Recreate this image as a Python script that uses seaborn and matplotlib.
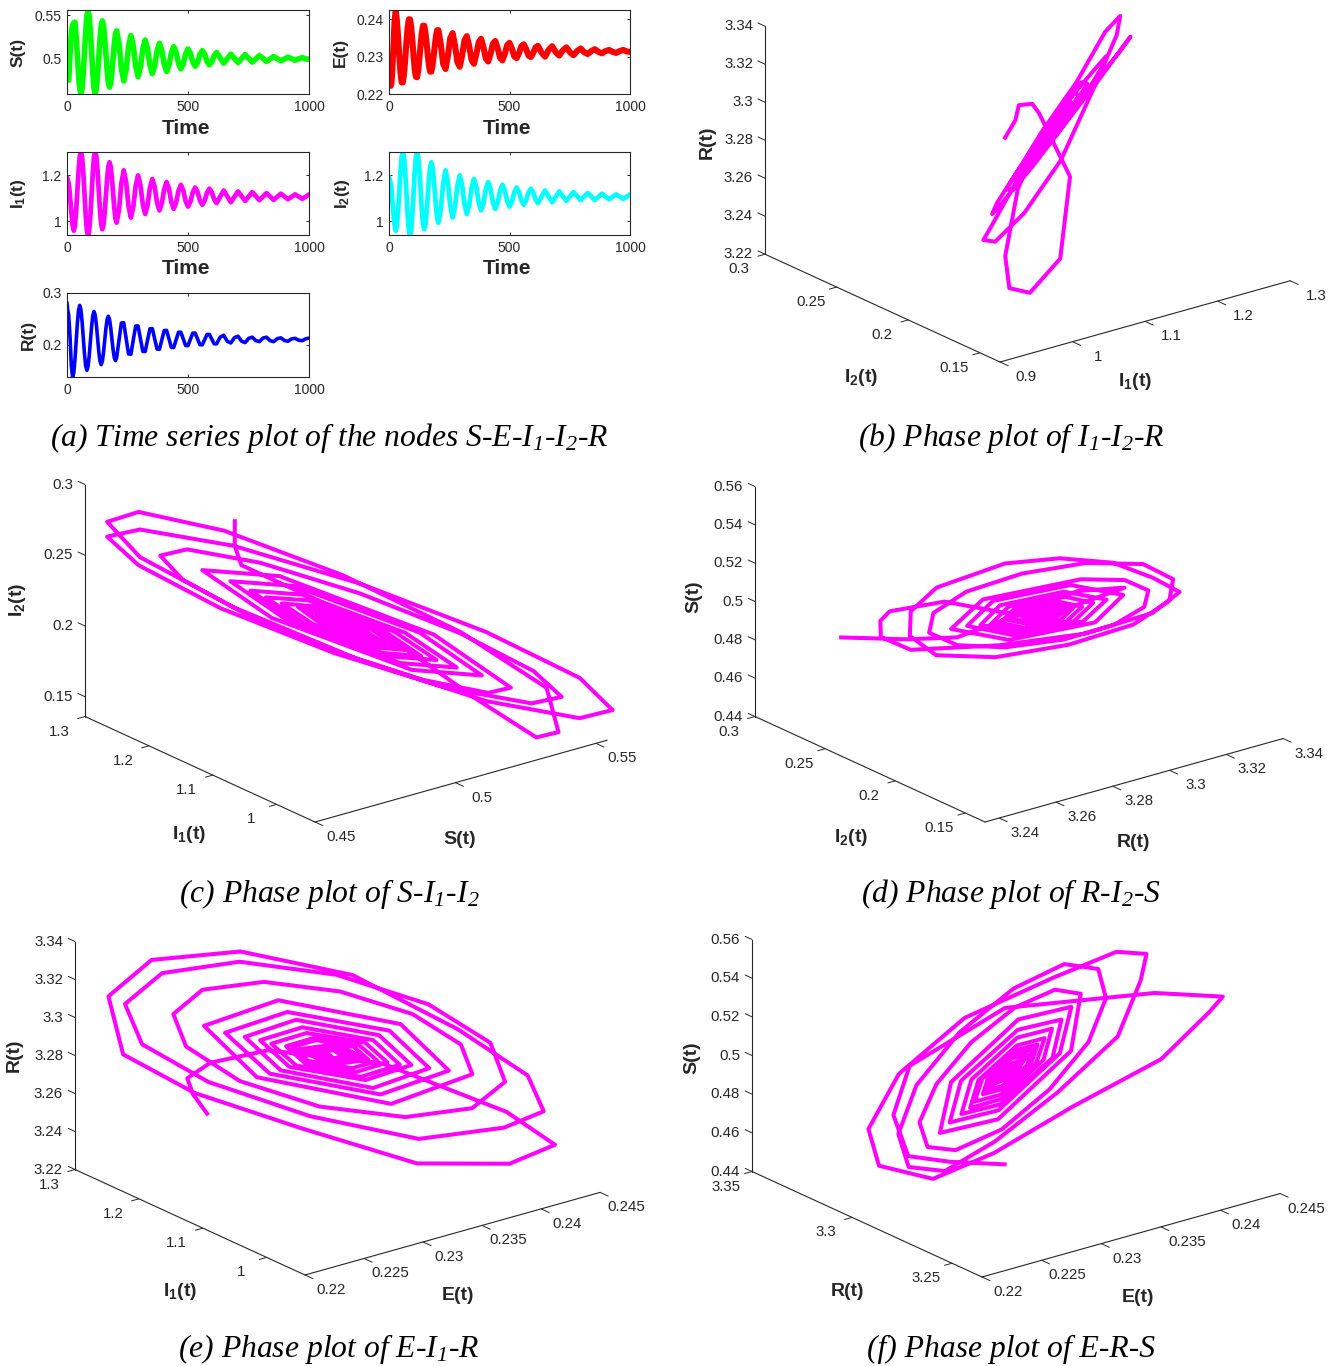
import numpy as np
import pandas as pd
import seaborn as sns
import matplotlib
matplotlib.use("Agg")
import matplotlib.pyplot as plt
from mpl_toolkits.mplot3d import proj3d

FIG_W, FIG_H = 1343, 1366

# time stamps shared by all the curves
t_vals = [0, 3, 7, 10, 13, 18, 23,
          28, 32.9, 37.8, 42.8, 47.7, 52.6, 57.5, 62.4, 67.3, 72.3, 77.2, 82.1,
          87, 91.9, 96.8, 101.8, 106.7, 111.6, 116.5, 121.4, 126.3, 131.3, 136.2, 141.1,
          146, 150.9, 155.8, 160.8, 165.7, 170.6, 175.5, 180.4, 185.3, 190.3, 195.2, 200.1,
          205, 214.8, 224.7, 234.5, 244.3, 254.2, 264, 273.8, 283.7, 293.5, 303.3, 313.2,
          323, 332.8, 342.7, 352.5, 362.3, 372.2, 382, 391.8, 401.7, 411.5, 421.3, 431.2,
          441, 450.8, 460.7, 470.5, 480.3, 490.2, 500, 509.8, 519.7, 529.5, 539.3, 549.2,
          559, 568.8, 578.7, 588.5, 598.3, 608.2,
          618, 632.8, 647.5, 662.3, 677, 691.8, 706.5, 721.3, 736, 750.8, 765.5, 780.3,
          795, 809.8, 824.5, 839.3, 854, 868.8, 883.5, 898.3, 913, 927.8, 942.5, 957.3,
          972, 986.8, 1000]

s_vals = [.479, .476, .475, .49, .507, .53, .539,
          .541, .542, .526, .5035, .481, .465, .459, .465, .483, .507, .531, .549,
          .555, .549, .531, .507, .483, .465, .459, .465, .480, .501, .522, .538,
          .5435, .538, .524, .505, .486, .472, .467, .471, .483, .4995, .516, .528,
          .532, .5175, .4885, .474, .487, .5135, .5267, .515, .491, .479, .4896, .5108,
          .5214, .5117, .4922, .4825, .4913, .5088, .5176, .5095, .4932, .485, .4922, .5065,
          .5137, .5073, .4944, .488, .4938, .5053, .511, .506, .496, .491, .4955, .5045,
          .509, .505, .4968, .4927, .4963, .5034,
          .507, .5008, .4946, .4998, .505, .5002, .4954, .4999, .5045, .5002, .4958, .4996,
          .5034, .5, .4966, .4995, .5023, .4998, .4973, .4994, .5015, .4998, .498, .4996,
          .5011, .4995, .4992]

e_vals = [.2255, .2235, .2222, .2228, .2255, .232, .2395,
          .2422, .2396, .2352, .2301, .2257, .2231, .2231, .2254, .2293, .2338, .2377, .24,
          .24, .238, .2344, .2302, .2266, .2246, .2245, .2264, .2296, .2332, .2364, .2383,
          .2383, .2366, .2338, .2305, .2277, .226, .226, .2275, .2301, .233, .2356, .2371,
          .2371, .2333, .2281, .2267, .2302, .235, .2363, .233, .2286, .2273, .2303, .2344,
          .2355, .2328, .2291, .2281, .2306, .2339, .2348, .2326, .2295, .2287, .2307, .2335,
          .2342, .2323, .2297, .229, .2307, .2331, .2337, .2322, .2301, .2296, .2309, .2328,
          .2333, .2321, .2303, .2299, .231, .2325,
          .2329, .2311, .23, .2318, .2328, .2312, .2303, .2317, .2325, .2312, .2304, .2315,
          .2322, .2312, .2307, .2315, .232, .2313, .2309, .2315, .2318, .2313, .231, .2315,
          .2318, .2314, .2313]

i1_vals = [1.193, 1.18, 1.165, 1.14, 1.10, 1.04, .985,
           .959, .982, 1.0455, 1.132, 1.2185, 1.282, 1.305, 1.28, 1.213, 1.1205, 1.028, .961,
           .936, .961, 1.028, 1.1205, 1.213, 1.28, 1.305, 1.282, 1.22, 1.135, 1.05, .988,
           .965, .985, 1.038, 1.111, 1.184, 1.237, 1.257, 1.239, 1.191, 1.1255, 1.06, 1.012,
           .994, 1.051, 1.165, 1.222, 1.1705, 1.0675, 1.016, 1.062, 1.154, 1.2, 1.158, 1.074,
           1.032, 1.07, 1.146, 1.184, 1.15, 1.081, 1.047, 1.078, 1.14, 1.171, 1.142, 1.083,
           1.054, 1.08, 1.133, 1.159, 1.135, 1.088, 1.064, 1.085, 1.126, 1.147, 1.128, 1.091,
           1.072, 1.09, 1.125, 1.142, 1.126, 1.095,
           1.079, 1.1065, 1.134, 1.1085, 1.083, 1.1065, 1.13, 1.1095, 1.089, 1.108, 1.127, 1.1095,
           1.092, 1.1075, 1.123, 1.108, 1.093, 1.1065, 1.12, 1.108, 1.096, 1.1065, 1.117, 1.1075,
           1.098, 1.107, 1.117]

i2_vals = [.2815, .267, .257, .235, .21, .158, .137,
           .145, .171, .206, .241, .267, .276, .2676, .2445, .213, .1815, .1582, .15,
           .1576, .1785, .207, .2355, .2564, .264, .2571, .2383, .2125, .1868, .1679, .161,
           .1673, .1845, .208, .2315, .2487, .255, .2492, .2335, .212, .1905, .1748, .169,
           .1742, .208, .2418, .2423, .212, .1818, .1812, .2085, .2358, .2362, .2115, .1868,
           .1864, .2085, .2306, .2309, .211, .1911, .1908, .209, .2272, .2275, .211, .1945,
           .1943, .209, .2237, .224, .211, .198, .1979, .21, .2221, .2223, .211, .1997,
           .1995, .2095, .2195, .2196, .2105, .2014,
           .2013, .2143, .2179, .2063, .203, .2133, .2161, .2065, .2038, .212, .2143, .2075,
           .2057, .2125, .2143, .2075, .2056, .2114, .213, .2079, .2064, .2109, .2121, .2084,
           .2074, .2111, .2125]

r_vals = [3.2555, 3.272, 3.285, 3.296, 3.304, 3.295, 3.265,
          3.247, 3.238, 3.236, 3.25, 3.263, 3.278, 3.305, 3.324, 3.332, 3.326, 3.305, 3.287,
          3.272, 3.263, 3.253, 3.258, 3.268, 3.281, 3.2985, 3.315, 3.325, 3.325, 3.317, 3.303,
          3.286, 3.272, 3.264, 3.264, 3.271, 3.284, 3.298, 3.311, 3.318, 3.318, 3.3117, 3.3005,
          3.2876, 3.2698, 3.2753, 3.296, 3.3113, 3.3063, 3.2875, 3.2736, 3.278, 3.2947, 3.3069, 3.3029,
          3.2877, 3.2761, 3.2801, 3.2936, 3.3035, 3.3003, 3.2883, 3.2794, 3.2822, 3.2928, 3.3006, 3.2981,
          3.2884, 3.2813, 3.2836, 3.2923, 3.2987, 3.2967, 3.2889, 3.2833, 3.285, 3.2918, 3.2968, 3.2952,
          3.2891, 3.2847, 3.2862, 3.2917, 3.2958, 3.2945,
          3.2894, 3.2856, 3.2915, 3.295, 3.2897, 3.2866, 3.2915, 3.2945, 3.2898, 3.287, 3.2914, 3.294,
          3.2898, 3.2875, 3.2913, 3.2935, 3.2899, 3.288, 3.2911, 3.293, 3.2899, 3.288, 3.291, 3.2925,
          3.2899, 3.2885, 3.291]

time_ticks = [0, 500, 1000]
s_ticks = [.44, .46, .48, .5, .52, .54, .56]
r_ticks = [3.22, 3.24, 3.26, 3.28, 3.3, 3.32, 3.34]
i1_ticks = [1, 1.1, 1.2, 1.3]
i2_ticks = [.15, .2, .25, .3]
e_ticks = [.22, .225, .23, .235, .24, .245]

LBL_I1 = r"$\mathbf{I_1(t)}$"
LBL_I2 = r"$\mathbf{I_2(t)}$"

sns.set_theme(style="white")
plt.rcParams["font.family"] = ["Liberation Sans", "DejaVu Sans"]
plt.rcParams["mathtext.fontset"] = "custom"
# rm only shows up in the caption subscripts, digits in \mathit fall back to rm anyway
plt.rcParams["mathtext.rm"] = "Liberation Serif:italic"
plt.rcParams["mathtext.it"] = "Liberation Serif:italic"
plt.rcParams["mathtext.bf"] = "Liberation Sans:bold"

df = pd.DataFrame({"Time": t_vals, "S": s_vals, "E": e_vals, "I1": i1_vals,
                   "I2": i2_vals, "R": r_vals})

fig = plt.figure(figsize=(FIG_W / 100, FIG_H / 100), dpi=100)
INK = "#262626"


def px_rect(x0, y0, x1, y1):
    return [x0 / FIG_W, 1 - y1 / FIG_H, (x1 - x0) / FIG_W, (y1 - y0) / FIG_H]


def time_panel(box, col, color, lw, label, ylim, yticks, lab_x, show_xlabel=True):
    ax = fig.add_axes(px_rect(*box))
    sns.lineplot(data=df, x="Time", y=col, ax=ax, color=color, lw=lw, estimator=None, sort=False)
    ax.set_xlim(0, 1000)
    ax.set_ylim(*ylim)
    ax.set_xticks(time_ticks)
    ax.set_xticklabels(["0", "500", "1000"])
    ax.set_yticks(yticks)
    ax.set_yticklabels(["%g" % v for v in yticks])
    ax.tick_params(direction="in", length=2.5, width=0.7, top=True, right=True, bottom=True, left=True,
                   labelsize=10, colors=INK, pad=4)
    ax.tick_params(axis="x", pad=4.5)
    for sp in ax.spines.values():
        sp.set_color(INK)
        sp.set_linewidth(0.8)
        sp.set_visible(True)
    h = box[3] - box[1]
    ax.set_ylabel(label, fontsize=12.5, fontweight="bold", color=INK, va="center")
    ax.yaxis.set_label_coords((lab_x - box[0]) / (box[2] - box[0]), 0.5)
    if show_xlabel:
        ax.set_xlabel("Time", fontsize=15, fontweight="bold", color=INK, va="center")
        ax.xaxis.set_label_coords(0.49, -34 / h)
    else:
        ax.set_xlabel("")


def to_px(ax, x, y, z):
    # where a data point of the 3d axes ends up, in picture pixels
    px, py, _ = proj3d.proj_transform(x, y, z, ax.get_proj())
    disp = ax.transData.transform((px, py))
    return disp[0], FIG_H - disp[1]


def tick_text(px, py, val, ha="center"):
    fig.text(px / FIG_W, 1 - py / FIG_H, "%g" % val, fontsize=10.8, color=INK, ha=ha, va="center")


def phase_panel(corner, xs, ys, zs, xlim, ylim, zlim, xt, yt, zt, ex, ey, ez, labels):
    ax = fig.add_axes(px_rect(100, 100, 600, 600), projection="3d", proj_type="ortho")
    ax.view_init(elev=21, azim=-128)
    ax.set_xlim(*xlim, view_margin=0)
    ax.set_ylim(*ylim, view_margin=0)
    ax.set_zlim(*zlim, view_margin=0)
    ax.set_box_aspect((ex / 0.788, ey / 0.616, ez / 0.934))
    ax.set_xticks([])
    ax.set_yticks([])
    ax.set_zticks([])
    ax.set_axis_off()
    ax.patch.set_visible(False)

    x0, y0, z0 = xlim[0], ylim[0], zlim[0]
    x1, y1, z1 = xlim[1], ylim[1], zlim[1]
    dx, dy = x1 - x0, y1 - y0

    ax.plot(xs, ys, zs, color="#ff00ff", lw=2.9, solid_joinstyle="round", solid_capstyle="butt")

    # the three visible axes of the box, MATLAB style
    kw = dict(color=INK, lw=0.8)
    ax.plot([x0, x1], [y0, y0], [z0, z0], **kw)
    ax.plot([x0, x0], [y0, y1], [z0, z0], **kw)
    ax.plot([x0, x0], [y1, y1], [z0, z1], **kw)
    tk = dict(color=INK, lw=0.7)
    for v in xt:
        ax.plot([v, v], [y0, y0 - 0.035 * dy], [z0, z0], **tk)
    for v in yt:
        ax.plot([x0, x0 - 0.025 * dx], [v, v], [z0, z0], **tk)
    for v in zt:
        ax.plot([x0, x0], [y1, y1 + 0.03 * dy], [v, v], **tk)

    # scale and shift the axes so the front corner lands where it does in the picture
    w = 550.0
    cx, cy = 300.0, 300.0
    for _ in range(3):
        ax.set_position(px_rect(cx - w / 2, cy - w / 2, cx + w / 2, cy + w / 2))
        ax.apply_aspect()
        pa = to_px(ax, x0, y0, z0)
        pb = to_px(ax, x0, y0, z1)
        w *= ez / (pa[1] - pb[1])
        cx += corner[0] - pa[0]
        cy += corner[1] - pa[1]
    ax.set_position(px_rect(cx - w / 2, cy - w / 2, cx + w / 2, cy + w / 2))
    ax.apply_aspect()

    # tick labels sit at a fixed pixel offset from their tick
    for v in xt:
        px, py = to_px(ax, v, y0, z0)
        tick_text(px + 26, py + 15, v)
    for v in yt:
        px, py = to_px(ax, x0, v, z0)
        tick_text(px - 26, py + 15, v)
    for v in zt:
        px, py = to_px(ax, x0, y1, v)
        tick_text(px - 12, py, v, ha="right")

    for (txt, px, py, rot) in labels:
        fig.text(px / FIG_W, 1 - py / FIG_H, txt, fontsize=14, fontweight="bold", color=INK,
                 ha="center", va="center", rotation=rot)


time_panel((67, 10, 309, 94), "S", "#00ff00", 4.0, "S(t)", (.459, .556), [.5, .55], 18)
time_panel((389, 10, 630, 94), "E", "#ff0000", 4.4, "E(t)", (.22, .2425), [.22, .23, .24], 340)
time_panel((67, 152, 309, 235), "I1", "#ff00ff", 3.4, LBL_I1, (.94, 1.302), [1, 1.2], 18)
time_panel((389, 152, 630, 235), "I1", "#00ffff", 3.4, LBL_I2, (.94, 1.302), [1, 1.2], 342)
time_panel((67, 293, 309, 377), "I2", "#0000ff", 2.6, "R(t)", (.137, .3), [.2, .3], 28, show_xlabel=False)

phase_panel((1000, 362), df["I1"], df["I2"], df["R"], (.9, 1.3), (.136, .3), (3.22, 3.34),
            [.9] + i1_ticks, i2_ticks, r_ticks, 290, 235, 228,
            [("R(t)", 707, 142, 90), (LBL_I2, 861, 377, 0), (LBL_I1, 1135, 382, 0)])
phase_panel((315, 822), df["S"], df["I1"], df["I2"], (.45, .554), (.94, 1.3), (.136, .3),
            [.45, .5, .55], i1_ticks, i2_ticks, 292, 230, 232,
            [(LBL_I2, 17, 600, 90), (LBL_I1, 189, 834, 0), ("S(t)", 460, 840, 0)])
phase_panel((985, 822), df["R"], df["I2"], df["S"], (3.235, 3.34), (.136, .3), (.44, .56),
            r_ticks[1:], i2_ticks, s_ticks, 298, 230, 230,
            [("S(t)", 694, 597, 90), (LBL_I2, 851, 838, 0), ("R(t)", 1134, 842, 0)])
phase_panel((305, 1275), df["E"], df["I1"], df["R"], (.22, .245), (.94, 1.3), (3.22, 3.34),
            e_ticks, i1_ticks, r_ticks, 295, 230, 228,
            [("R(t)", 14, 1055, 90), (LBL_I1, 180, 1291, 0), ("E(t)", 458, 1295, 0)])
phase_panel((982, 1277), df["E"], df["R"], df["S"], (.22, .245), (3.235, 3.35), (.44, .56),
            e_ticks, [3.25, 3.3, 3.35], s_ticks, 298, 230, 232,
            [("S(t)", 692, 1058, 90), ("R(t)", 848, 1292, 0), ("E(t)", 1138, 1298, 0)])

captions = [
    (329, 438, r"(a) Time series plot of the nodes S-E-I$_{\mathrm{1}}$-I$_{\mathrm{2}}$-R"),
    (1011, 438, r"(b) Phase plot of I$_{\mathrm{1}}$-I$_{\mathrm{2}}$-R"),
    (329, 894, r"(c) Phase plot of S-I$_{\mathrm{1}}$-I$_{\mathrm{2}}$"),
    (1011, 894, r"(d) Phase plot of R-I$_{\mathrm{2}}$-S"),
    (329, 1349, r"(e) Phase plot of E-I$_{\mathrm{1}}$-R"),
    (1011, 1349, r"(f) Phase plot of E-R-S"),
]
for px, py, txt in captions:
    fig.text(px / FIG_W, 1 - py / FIG_H, txt, family="Liberation Serif", style="italic",
             fontsize=22.8, color="black", ha="center", va="center")

fig.savefig("out.png", dpi=100)
